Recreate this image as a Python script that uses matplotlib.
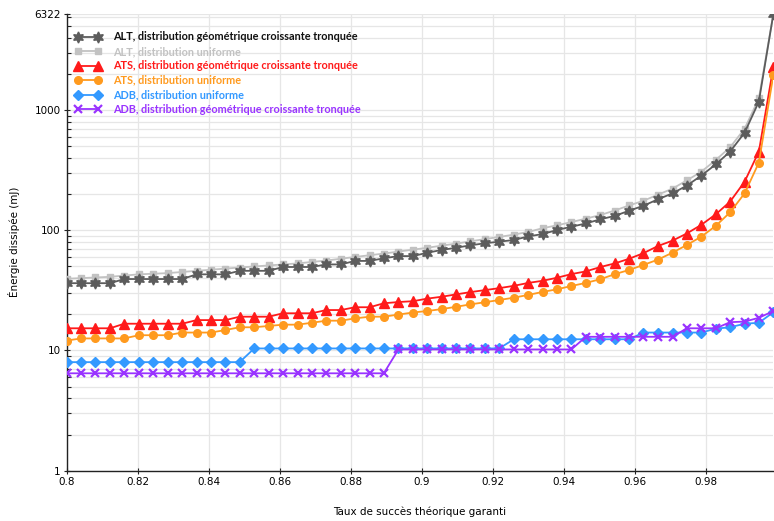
import matplotlib
matplotlib.use("Agg")
import matplotlib.pyplot as plt
from matplotlib.ticker import FixedLocator, LogLocator, NullFormatter, FuncFormatter

plt.rcParams['font.family'] = ['DejaVu Sans']

taux = [0.8, 0.8041, 0.8081, 0.8122, 0.8162, 0.8203, 0.8244, 0.8284, 0.8325, 0.8366,
        0.8406, 0.8447, 0.8487, 0.8528, 0.8569, 0.8609, 0.8650, 0.8690, 0.8731, 0.8772,
        0.8812, 0.8853, 0.8893, 0.8934, 0.8975, 0.9015, 0.9056, 0.9097, 0.9137, 0.9178,
        0.9218, 0.9259, 0.9300, 0.9340, 0.9381, 0.9421, 0.9462, 0.9503, 0.9543, 0.9584,
        0.9624, 0.9665, 0.9706, 0.9746, 0.9787, 0.9828, 0.9868, 0.9909, 0.9949, 0.999]

alt_geo = [36.3, 36.3, 36.3, 36.3, 39.3, 39.3, 39.3, 39.3, 39.3, 43.0,
           43.0, 43.0, 46.0, 46.0, 46.0, 49.5, 49.5, 49.5, 52.0, 52.0,
           55.6, 55.6, 58.5, 61.0, 61.0, 65.0, 68.6, 71.6, 75.0, 78.0,
           80.4, 83.0, 89.0, 93.0, 100.6, 107, 114, 123.5, 131.6, 145.6,
           160, 181, 203, 235, 285, 354, 451, 649, 1175, 6322]

alt_unif = [39.5, 40, 40.5, 41, 42, 43, 43.5, 44, 45, 46,
            47, 48, 49, 50, 51, 52, 53, 54.5, 56, 58,
            60, 62, 64, 66.5, 69, 71.5, 74.5, 77.5, 81, 84.5,
            88, 92, 97, 104, 110, 117, 125, 134, 146, 161,
            176, 198, 222, 260, 307, 385, 490, 700, 1250, 6322]

ats_geo = [15.3, 15.3, 15.3, 15.3, 16.7, 16.7, 16.7, 16.7, 16.7, 17.9,
           17.9, 17.9, 19.1, 19.1, 19.1, 20.4, 20.4, 20.4, 21.7, 21.7,
           22.9, 22.9, 24.7, 25.3, 25.7, 27.0, 28.0, 29.3, 30.6, 31.8,
           33.0, 34.5, 36.5, 38.0, 40.3, 43.2, 45.5, 49.5, 53.0, 58.0,
           64.5, 74, 82, 94, 111, 136, 173, 254, 451, 2300]

ats_unif = [12.1, 12.6, 12.6, 12.6, 12.6, 13.4, 13.4, 13.4, 14.1, 14.1,
            14.1, 14.8, 15.6, 15.6, 16.0, 16.4, 16.4, 17.0, 17.7, 17.7,
            18.5, 19.1, 19.1, 19.9, 20.7, 21.3, 22.1, 23.1, 24.2, 25.2,
            26.3, 27.5, 29.0, 30.7, 32.3, 34.4, 36.5, 39.2, 43.1, 46.8,
            51.5, 57, 65.2, 75.4, 88.5, 109, 141, 203, 365, 1960]

adb_unif = [8.0] * 13 + [10.4] * 18 + [12.4] * 9 + [14.1] * 5 + [15.2, 15.6, 16.7, 17.0, 20.8]

adb_geo = [6.46] * 23 + [10.2] * 13 + [13.0] * 7 + [15.3] * 3 + [17.2, 17.4, 18.7, 21.3]

labels = ["ALT, distribution géométrique croissante tronquée",
          "ALT, distribution uniforme",
          "ATS, distribution géométrique croissante tronquée",
          "ATS, distribution uniforme",
          "ADB, distribution uniforme",
          "ADB, distribution géométrique croissante tronquée"]

fig = plt.figure(figsize=(7.74, 5.21), dpi=100)
ax = fig.add_axes([66.7 / 774, 50.3 / 521, (773.4 - 66.7) / 774, (470.7 - 13.8) / 521])

lw = 1.3
series = [
    (alt_geo, '#5c5c5c', (6, 1, 0), 8, 1, 4),
    (alt_unif, '#c2c2c2', 's', 5, 1, 3),
    (ats_geo, '#ff1a1a', '^', 6.5, 1, 4),
    (ats_unif, '#ff9a1e', 'o', 5.5, 1, 4),
    (adb_unif, '#3399ff', 'D', 5, 1, 4),
    (adb_geo, '#9933ff', 'x', 5.5, 1.6, 5),
]
handles = []
for (vals, col, mk, ms, mew, z), lab in zip(series, labels):
    h, = ax.plot(taux, vals, color=col, lw=lw, marker=mk, ms=ms, mew=mew,
                 mec=col, mfc=col, label=lab, zorder=z)
    handles.append(h)

ax.set_yscale('log')
ax.set_xlim(0.8, 0.999)
ax.set_ylim(1, 6322)

ax.xaxis.set_major_locator(FixedLocator([0.8, 0.82, 0.84, 0.86, 0.88, 0.9, 0.92, 0.94, 0.96, 0.98]))
ax.xaxis.set_major_formatter(FuncFormatter(lambda v, p: ('%.2f' % v).rstrip('0').rstrip('.')))
ax.yaxis.set_major_locator(FixedLocator([1, 10, 100, 1000, 6322]))
ax.yaxis.set_major_formatter(FuncFormatter(lambda v, p: '%d' % round(v)))
ax.yaxis.set_minor_locator(LogLocator(base=10, subs=range(2, 10)))
ax.yaxis.set_minor_formatter(NullFormatter())

ax.grid(True, which='major', axis='x', color='#e6e6e6', lw=0.9, zorder=0)
ax.grid(True, which='both', axis='y', color='#e6e6e6', lw=0.9, zorder=0)
ax.set_axisbelow(True)

for s in ['top', 'right']:
    ax.spines[s].set_visible(False)
for s in ['left', 'bottom']:
    ax.spines[s].set_color('#222222')
    ax.spines[s].set_linewidth(1.0)

ax.tick_params(axis='both', which='major', direction='inout', length=5, width=0.8,
               labelsize=7.5, colors='#222222', labelcolor='black', pad=2)
ax.tick_params(axis='y', which='minor', direction='in', length=3, width=0.8, colors='#222222')

ax.set_xlabel("Taux de succès théorique garanti", fontsize=7.5, labelpad=14)
ax.set_ylabel("Énergie dissipée (mJ)", fontsize=7.5, labelpad=10)

leg = ax.legend(handles=handles, loc='upper left', bbox_to_anchor=(0.0, 0.978),
                frameon=False, numpoints=2, handlelength=2.5,
                prop={'family': ['Lato', 'DejaVu Sans'], 'weight': 'bold', 'size': 7.8},
                handletextpad=1.1, labelspacing=0.32, borderaxespad=0.3)
text_colors = ['#111111', '#c2c2c2', '#ff1a1a', '#ff9a1e', '#3399ff', '#9933ff']
for t, c in zip(leg.get_texts(), text_colors):
    t.set_color(c)

fig.savefig('out.png', dpi=100)
